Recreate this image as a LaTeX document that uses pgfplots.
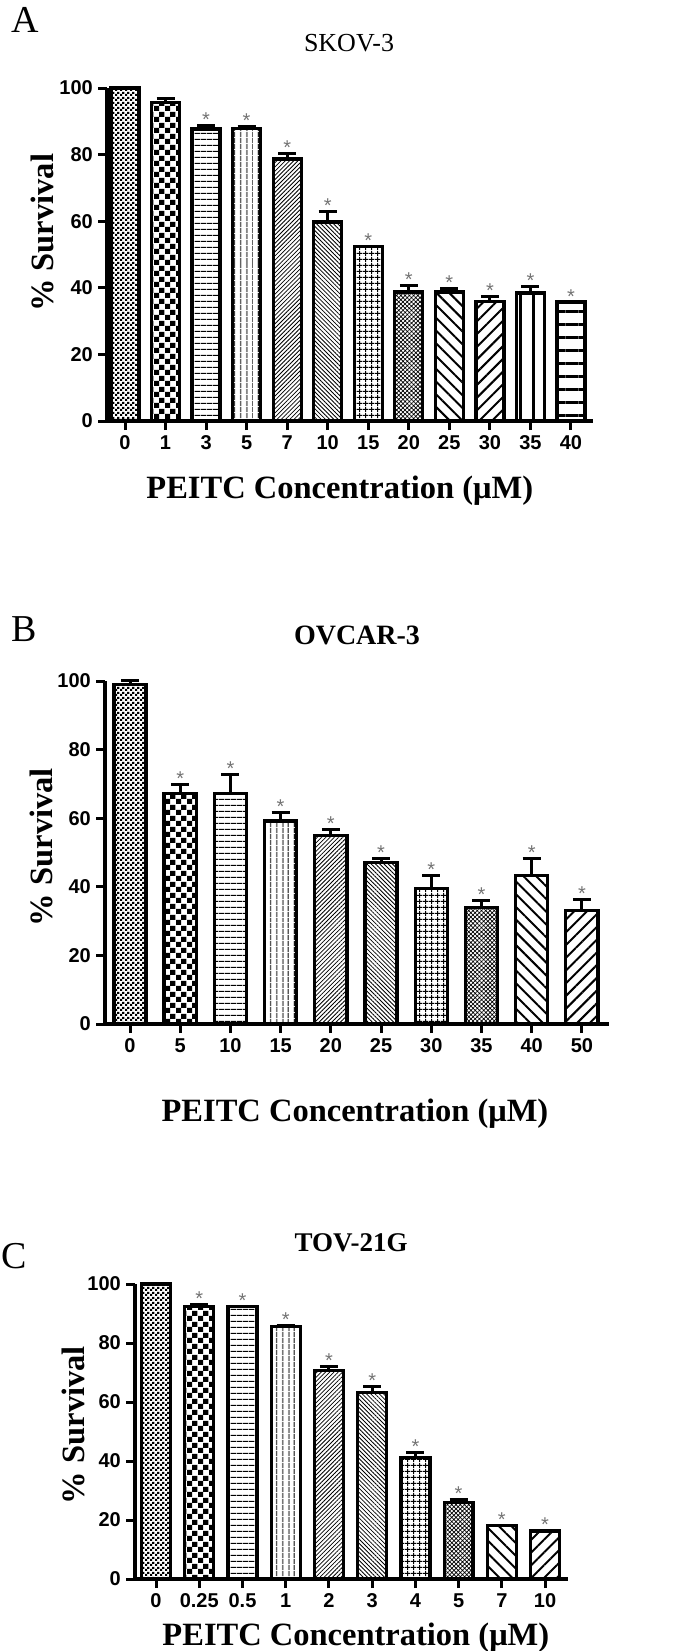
\documentclass[border=0pt]{standalone}
\usepackage{fontspec}
\setmainfont{Liberation Serif}
\newfontfamily\sansfont{Liberation Sans}
\usepackage{pgfplots}
\pgfplotsset{compat=1.18}
\usetikzlibrary{patterns,patterns.meta}

\pgfdeclarepatternformonly{checkfine}{\pgfpointorigin}{\pgfqpoint{5bp}{5bp}}{\pgfqpoint{5bp}{5bp}}{%
  \pgfpathrectangle{\pgfpointorigin}{\pgfqpoint{2.5bp}{2.5bp}}%
  \pgfpathrectangle{\pgfqpoint{2.5bp}{2.5bp}}{\pgfqpoint{2.5bp}{2.5bp}}%
  \pgfusepath{fill}}
\pgfdeclarepatternformonly{checkcoarse}{\pgfpointorigin}{\pgfqpoint{11bp}{11bp}}{\pgfqpoint{11bp}{11bp}}{%
  \pgfpathrectangle{\pgfpointorigin}{\pgfqpoint{5.5bp}{5.5bp}}%
  \pgfpathrectangle{\pgfqpoint{5.5bp}{5.5bp}}{\pgfqpoint{5.5bp}{5.5bp}}%
  \pgfusepath{fill}}

\tikzset{
  p0/.style={pattern=checkfine},
  p1/.style={pattern=checkcoarse},
  p2/.style={pattern={Lines[angle=0,distance=6bp,line width=1bp]}},
  p3/.style={pattern={Lines[angle=90,distance=6bp,line width=1.2bp]}},
  p4/.style={pattern={Lines[angle=45,distance=3bp,line width=0.8bp]}},
  p5/.style={pattern={Lines[angle=-45,distance=3bp,line width=0.8bp]}},
  p6/.style={pattern={Hatch[angle=0,distance=6bp,line width=1bp]}},
  p7/.style={pattern={Hatch[angle=45,distance=3bp,line width=0.7bp]}},
  p8/.style={pattern={Lines[angle=-45,distance=9bp,line width=2bp]}},
  p9/.style={pattern={Lines[angle=45,distance=9bp,line width=2bp]}},
  p10/.style={pattern={Lines[angle=90,distance=13bp,line width=3bp]}},
  p11/.style={pattern={Lines[angle=0,distance=13bp,line width=3bp]}},
}

\pgfplotsset{
  bars/.style={ybar, bar shift=0pt, draw=black, line width=3.3bp, pattern color=black,
    error bars/y dir=plus, error bars/y explicit,
    error bars/error bar style={line width=3bp, black},
    error bars/error mark options={rotate=90, line width=3bp, mark size=9bp, black}},
  stars/.style={draw=none, mark=none, nodes near coords={*},
    every node near coord/.append style={font=\sansfont\fontsize{20bp}{20bp}\selectfont,
      text=black!55, anchor=base, yshift=-1bp}},
  panel/.style={scale only axis, clip=false,
    ymin=0, ymax=100, ytick={0,20,...,100},
    axis x line*=bottom, axis y line*=left,
    axis line style={line width=3.5bp, -},
    tick style={line width=3bp, black},
    major tick length=9bp, tick align=outside,
    xtick={0,...,11},
    tick label style={font=\sansfont\bfseries\fontsize{20bp}{20bp}\selectfont},
    /pgf/number format/assume math mode=true,
    xticklabel style={anchor=base, inner sep=0pt, yshift=-19.5bp},
    yticklabel style={anchor=east, inner sep=0pt, xshift=-5bp},
    label style={font=\bfseries\fontsize{32.5bp}{32.5bp}\selectfont},
    xlabel={PEITC Concentration (μM)},
    ylabel={\% Survival},
  },
}

\begin{document}
\begin{tikzpicture}[x=1bp,y=1bp]
\path[use as bounding box] (0,0) rectangle (680,-1651);
\node[anchor=base west, inner sep=0pt, font=\fontsize{38bp}{38bp}\selectfont] at (11,-33) {A};
\node[anchor=base west, inner sep=0pt, font=\fontsize{38bp}{38bp}\selectfont] at (11,-641) {B};
\node[anchor=base west, inner sep=0pt, font=\fontsize{38bp}{38bp}\selectfont] at (1,-1268) {C};

% ---------------- Panel A ----------------
\begin{axis}[panel, at={(107bp,-421bp)}, anchor=south west,
  width=486bp, height=333bp,
  xmin=-0.444, xmax=11.543, bar width=0.69,
  xticklabels={0,1,3,5,7,10,15,20,25,30,35,40},
  xlabel style={at={(rel axis cs:0.479,-0.2312)}, anchor=base},
  ylabel style={at={(rel axis cs:-0.111,0.565)}, anchor=base},
  title={SKOV-3},
  title style={at={(rel axis cs:0.498,1.093)}, anchor=base, font=\fontsize{26bp}{26bp}\selectfont},
]
\addplot[bars, p0] coordinates {(0,100) +- (0,0)};
\addplot[bars, p1] coordinates {(1,95.6) +- (0,1.2)};
\addplot[bars, p2] coordinates {(2,87.7) +- (0,1.0)};
\addplot[bars, p3] coordinates {(3,87.9) +- (0,0.4)};
\addplot[bars, p4] coordinates {(4,78.7) +- (0,1.7)};
\addplot[bars, p5] coordinates {(5,59.8) +- (0,3.2)};
\addplot[bars, p6] coordinates {(6,52.3) +- (0,0)};
\addplot[bars, p7] coordinates {(7,38.7) +- (0,2.1)};
\addplot[bars, p8] coordinates {(8,38.7) +- (0,1.1)};
\addplot[bars, p9] coordinates {(9,35.9) +- (0,1.5)};
\addplot[bars, p10] coordinates {(10,38.4) +- (0,2.0)};
\addplot[bars, p11] coordinates {(11,35.7) +- (0,0)};
\addplot[stars] coordinates {(2,88.7) (3,88.3) (4,80.4) (5,63.0) (6,52.3) (7,40.8) (8,39.8) (9,37.4) (10,40.4) (11,35.7)};
\end{axis}

% ---------------- Panel B ----------------
\begin{axis}[panel, at={(105bp,-1024bp)}, anchor=south west,
  width=504bp, height=343bp,
  xmin=-0.498, xmax=9.54, bar width=0.64,
  xticklabels={0,5,10,15,20,25,30,35,40,50},
  xlabel style={at={(rel axis cs:0.496,-0.283)}, anchor=base},
  ylabel style={at={(rel axis cs:-0.105,0.516)}, anchor=base},
  title={OVCAR-3},
  title style={at={(rel axis cs:0.5,1.09)}, anchor=base, font=\bfseries\fontsize{28bp}{28bp}\selectfont},
]
\addplot[bars, p0] coordinates {(0,99.0) +- (0,1.2)};
\addplot[bars, p1] coordinates {(1,67.2) +- (0,2.7)};
\addplot[bars, p2] coordinates {(2,67.2) +- (0,5.6)};
\addplot[bars, p3] coordinates {(3,59.2) +- (0,2.6)};
\addplot[bars, p4] coordinates {(4,55.0) +- (0,1.7)};
\addplot[bars, p5] coordinates {(5,47.1) +- (0,1.1)};
\addplot[bars, p6] coordinates {(6,39.5) +- (0,3.8)};
\addplot[bars, p7] coordinates {(7,34.0) +- (0,2.1)};
\addplot[bars, p8] coordinates {(8,43.2) +- (0,5.1)};
\addplot[bars, p9] coordinates {(9,33.0) +- (0,3.4)};
\addplot[stars] coordinates {(1,69.9) (2,72.8) (3,61.8) (4,56.7) (5,48.2) (6,43.3) (7,36.1) (8,48.3) (9,36.4)};
\end{axis}

% ---------------- Panel C ----------------
\begin{axis}[panel, at={(135bp,-1579bp)}, anchor=south west,
  width=433bp, height=295bp,
  xmin=-0.486, xmax=9.53, bar width=0.67,
  xticklabels={0,0.25,0.5,1,2,3,4,5,7,10},
  xlabel style={at={(rel axis cs:0.51,-0.2237)}, anchor=base},
  ylabel style={at={(rel axis cs:-0.1155,0.522)}, anchor=base},
  title={TOV-21G},
  title style={at={(rel axis cs:0.499,1.09)}, anchor=base, font=\bfseries\fontsize{27bp}{27bp}\selectfont},
]
\addplot[bars, p0] coordinates {(0,100) +- (0,0)};
\addplot[bars, p1] coordinates {(1,92.3) +- (0,0.6)};
\addplot[bars, p2] coordinates {(2,92.3) +- (0,0)};
\addplot[bars, p3] coordinates {(3,85.5) +- (0,0.6)};
\addplot[bars, p4] coordinates {(4,70.8) +- (0,1.4)};
\addplot[bars, p5] coordinates {(5,63.2) +- (0,2.2)};
\addplot[bars, p6] coordinates {(6,41.2) +- (0,1.7)};
\addplot[bars, p7] coordinates {(7,25.9) +- (0,1.1)};
\addplot[bars, p8] coordinates {(8,18.1) +- (0,0)};
\addplot[bars, p9] coordinates {(9,16.3) +- (0,0)};
\addplot[stars] coordinates {(1,92.9) (2,92.3) (3,86.1) (4,72.2) (5,65.4) (6,42.9) (7,27.0) (8,18.1) (9,16.3)};
\end{axis}
\end{tikzpicture}
\end{document}
